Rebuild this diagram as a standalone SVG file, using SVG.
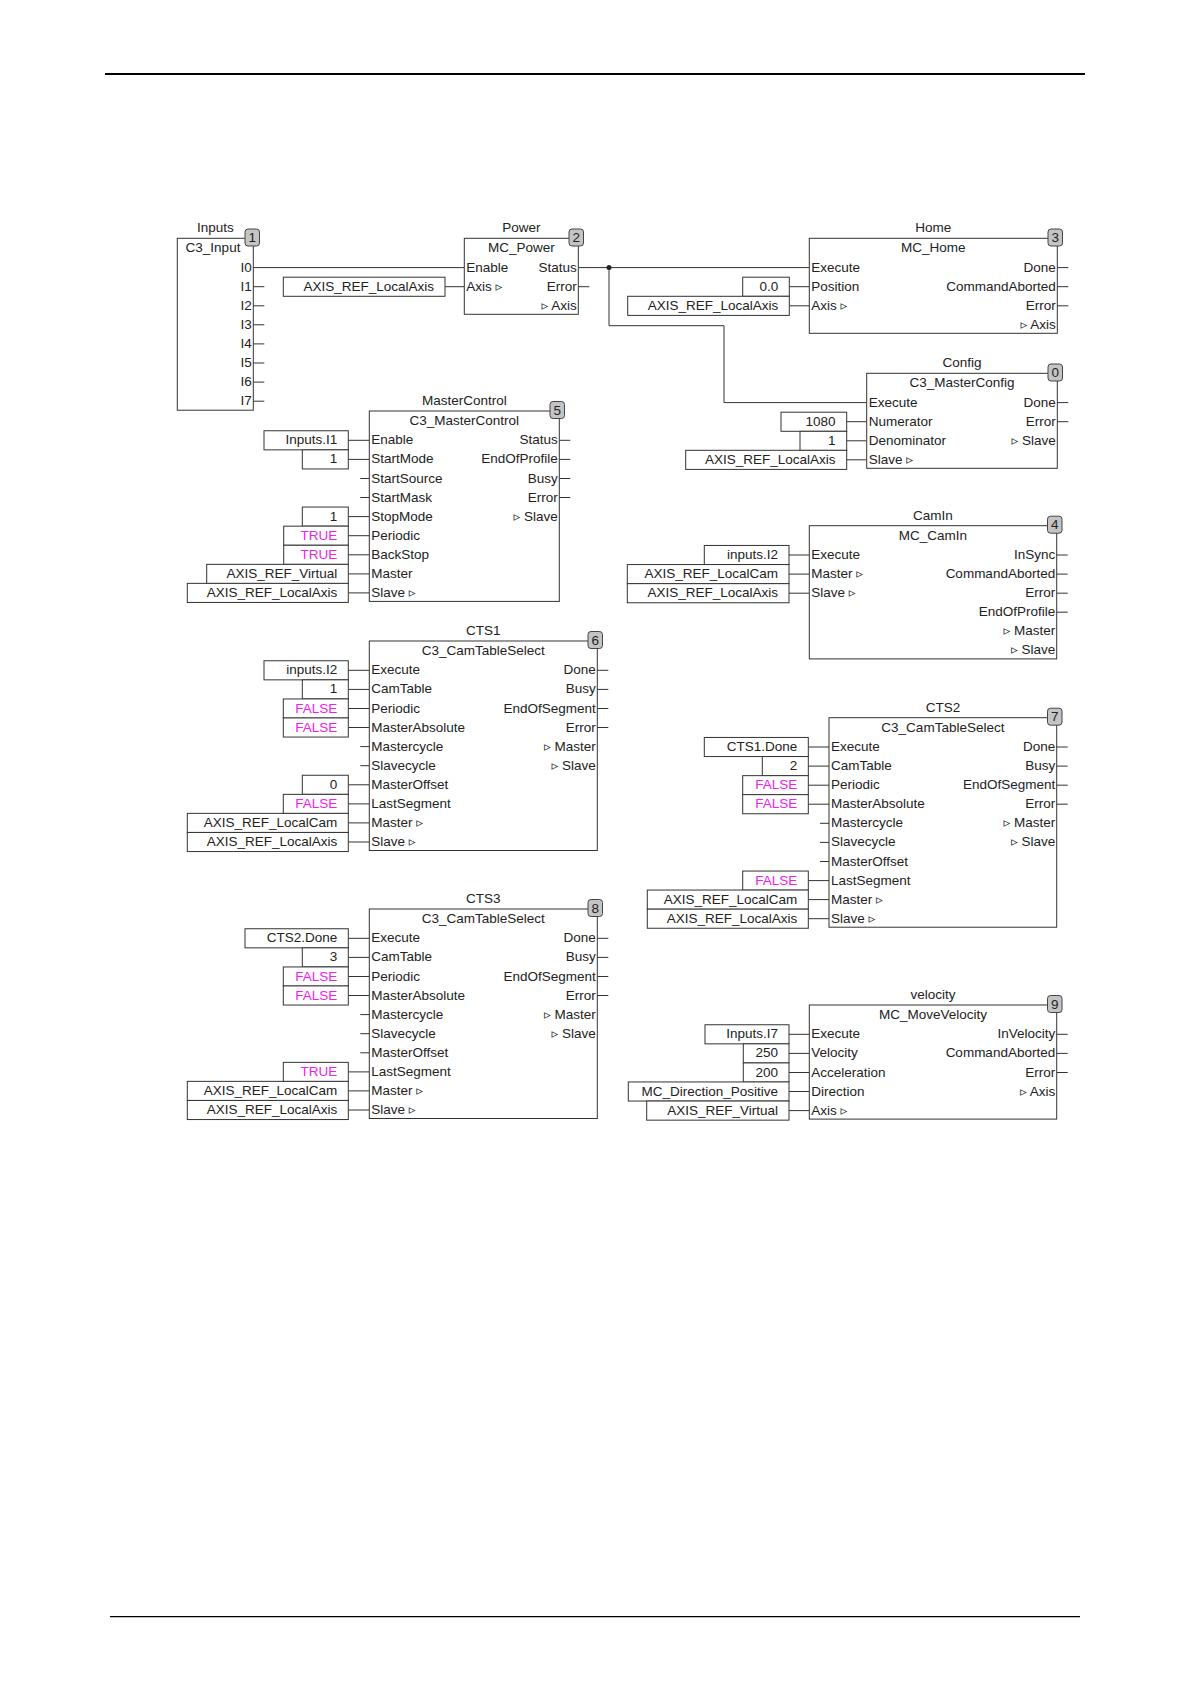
<svg xmlns="http://www.w3.org/2000/svg" width="1190" height="1684" viewBox="0 0 1190 1684">
<style>
text{font-family:"Liberation Sans",Arial,"DejaVu Sans",sans-serif;font-size:13.5px;fill:#222;transform:translateY(-1px)}
.m{text-anchor:middle}
.r{text-anchor:end}
.mag{fill:#ee22ee}
.b{fill:#fff;stroke:#333;stroke-width:1}
.k{fill:#fff;stroke:#333;stroke-width:1}
.s{stroke:#333;stroke-width:1;fill:none}
.w{stroke:#333;stroke-width:1;fill:none}
.bd{fill:#c4c4c4;stroke:#444;stroke-width:1}
.bn{font-size:13.5px;text-anchor:middle;fill:#222}
</style>
<rect width="1190" height="1684" fill="#fff"/>
<line x1="105" y1="74" x2="1085" y2="74" stroke="#000" stroke-width="2.2"/>
<line x1="110" y1="1616.7" x2="1080" y2="1616.7" stroke="#000" stroke-width="1.3"/>

<g id="connectors">
<path class="w" d="M253.3 267.6H464.3"/>
<path class="w" d="M578.3 267.6H809.3"/>
<path class="w" d="M609 267.6V325.7H724V402.6H866.7"/>
<circle cx="609" cy="267.6" r="2.5" fill="#222"/>
<path class="w" d="M445 286.7H464.3"/>
<path class="w" d="M789.3 286.7H809.3M789.3 305.8H809.3"/>
<path class="w" d="M846.7 421.7H866.7M846.7 440.8H866.7M846.7 459.8H866.7"/>
<path class="w" d="M348.3 440.3H369.3M348.3 459.4H369.3M348.3 516.6H369.3M348.3 535.7H369.3M348.3 554.8H369.3M348.3 573.9H369.3M348.3 592.9H369.3"/>
<path class="w" d="M789 555H809.3M789 574.1H809.3M789 593.2H809.3"/>
<path class="w" d="M348.3 670.3H369.3M348.3 689.4H369.3M348.3 708.5H369.3M348.3 727.5H369.3M348.3 784.8H369.3M348.3 803.9H369.3M348.3 822.9H369.3M348.3 842H369.3"/>
<path class="w" d="M808.3 747H829M808.3 766.1H829M808.3 785.2H829M808.3 804.2H829M808.3 880.6H829M808.3 899.6H829M808.3 918.7H829"/>
<path class="w" d="M348.3 938.3H369.3M348.3 957.4H369.3M348.3 976.5H369.3M348.3 995.5H369.3M348.3 1071.9H369.3M348.3 1090.9H369.3M348.3 1110H369.3"/>
<path class="w" d="M789 1034.3H809.3M789 1053.4H809.3M789 1072.5H809.3M789 1091.5H809.3M789 1110.6H809.3"/>
</g>

<g id="inputs">
<text class="m" x="215.3" y="233.3">Inputs</text>
<rect class="b" x="177.3" y="238.3" width="76" height="171.9"/>
<text class="m" x="213" y="253.3">C3_Input</text>
<text class="r" x="251.8" y="272.6">I0</text>
<text class="r" x="251.8" y="291.7">I1</text>
<text class="r" x="251.8" y="310.8">I2</text>
<text class="r" x="251.8" y="329.8">I3</text>
<text class="r" x="251.8" y="348.9">I4</text>
<text class="r" x="251.8" y="368">I5</text>
<text class="r" x="251.8" y="387.1">I6</text>
<text class="r" x="251.8" y="406.2">I7</text>
<path class="s" d="M253.3 286.7H264.3M253.3 305.8H264.3M253.3 324.8H264.3M253.3 343.9H264.3M253.3 363H264.3M253.3 382.1H264.3M253.3 401.2H264.3"/>
<rect class="bd" x="245" y="229" width="14.5" height="17" rx="3"/>
<text class="bn" x="252.2" y="243">1</text>
</g>

<g id="power">
<text class="m" x="521.3" y="233.3">Power</text>
<rect class="b" x="464.3" y="238.3" width="114" height="76"/>
<text class="m" x="521.3" y="253.3">MC_Power</text>
<text x="466.3" y="272.6">Enable</text>
<text x="466.3" y="291.7">Axis ▹</text>
<text class="r" x="576.8" y="272.6">Status</text>
<text class="r" x="576.8" y="291.7">Error</text>
<text class="r" x="576.8" y="310.8">▹ Axis</text>
<path class="s" d="M578.3 286.7H589.3"/>
<rect class="bd" x="569" y="229" width="14.5" height="17" rx="3"/>
<text class="bn" x="576.2" y="243">2</text>
<rect class="k" x="283.3" y="277.2" width="161.7" height="19.1"/>
<text class="r" x="434" y="291.7">AXIS_REF_LocalAxis</text>
</g>

<g id="home">
<text class="m" x="933.3" y="233.3">Home</text>
<rect class="b" x="809.3" y="238.3" width="248" height="95"/>
<text class="m" x="933.3" y="253.3">MC_Home</text>
<text x="811.3" y="272.6">Execute</text>
<text x="811.3" y="291.7">Position</text>
<text x="811.3" y="310.8">Axis ▹</text>
<text class="r" x="1055.8" y="272.6">Done</text>
<text class="r" x="1055.8" y="291.7">CommandAborted</text>
<text class="r" x="1055.8" y="310.8">Error</text>
<text class="r" x="1055.8" y="329.8">▹ Axis</text>
<path class="s" d="M1057.3 267.6H1068.3M1057.3 286.7H1068.3M1057.3 305.8H1068.3"/>
<rect class="bd" x="1048" y="229" width="14.5" height="17" rx="3"/>
<text class="bn" x="1055.2" y="243">3</text>
<rect class="k" x="742.7" y="277.2" width="46.6" height="19.1"/>
<text class="r" x="778.3" y="291.7">0.0</text>
<rect class="k" x="627.7" y="296.3" width="161.6" height="19.1"/>
<text class="r" x="778.3" y="310.8">AXIS_REF_LocalAxis</text>
</g>

<g id="config">
<text class="m" x="962" y="368.3">Config</text>
<rect class="b" x="866.7" y="373.3" width="190.6" height="95"/>
<text class="m" x="962" y="388.3">C3_MasterConfig</text>
<text x="868.7" y="407.6">Execute</text>
<text x="868.7" y="426.7">Numerator</text>
<text x="868.7" y="445.8">Denominator</text>
<text x="868.7" y="464.8">Slave ▹</text>
<text class="r" x="1055.8" y="407.6">Done</text>
<text class="r" x="1055.8" y="426.7">Error</text>
<text class="r" x="1055.8" y="445.8">▹ Slave</text>
<path class="s" d="M1057.3 402.6H1068.3M1057.3 421.7H1068.3"/>
<rect class="bd" x="1048" y="364" width="14.5" height="17" rx="3"/>
<text class="bn" x="1055.2" y="378">0</text>
<rect class="k" x="781" y="412.2" width="65.7" height="19.1"/>
<text class="r" x="835.5" y="426.7">1080</text>
<rect class="k" x="800" y="431.3" width="46.7" height="19.1"/>
<text class="r" x="835.5" y="445.8">1</text>
<rect class="k" x="685.7" y="450.3" width="161" height="19.1"/>
<text class="r" x="835.5" y="464.8">AXIS_REF_LocalAxis</text>
</g>

<g id="mastercontrol">
<text class="m" x="464.3" y="406">MasterControl</text>
<rect class="b" x="369.3" y="411" width="190" height="190.4"/>
<text class="m" x="464.3" y="426">C3_MasterControl</text>
<text x="371.3" y="445.3">Enable</text>
<text x="371.3" y="464.4">StartMode</text>
<text x="371.3" y="483.5">StartSource</text>
<text x="371.3" y="502.5">StartMask</text>
<text x="371.3" y="521.6">StopMode</text>
<text x="371.3" y="540.7">Periodic</text>
<text x="371.3" y="559.8">BackStop</text>
<text x="371.3" y="578.9">Master</text>
<text x="371.3" y="597.9">Slave ▹</text>
<text class="r" x="557.8" y="445.3">Status</text>
<text class="r" x="557.8" y="464.4">EndOfProfile</text>
<text class="r" x="557.8" y="483.5">Busy</text>
<text class="r" x="557.8" y="502.5">Error</text>
<text class="r" x="557.8" y="521.6">▹ Slave</text>
<path class="s" d="M559.3 440.3H570.3M559.3 459.4H570.3M559.3 478.5H570.3M559.3 497.5H570.3M360.3 478.5H369.3M360.3 497.5H369.3"/>
<rect class="bd" x="550" y="401.5" width="14.5" height="17" rx="3"/>
<text class="bn" x="557.2" y="415.5">5</text>
<rect class="k" x="264" y="430.75" width="84.3" height="19.1"/>
<text class="r" x="337.3" y="445.3">Inputs.I1</text>
<rect class="k" x="302.3" y="449.85" width="46" height="19.1"/>
<text class="r" x="337.3" y="464.4">1</text>
<rect class="k" x="302.3" y="507.05" width="46" height="19.1"/>
<text class="r" x="337.3" y="521.6">1</text>
<rect class="k" x="283.7" y="526.15" width="64.6" height="19.1"/>
<text class="r mag" x="337.3" y="540.7">TRUE</text>
<rect class="k" x="283.7" y="545.25" width="64.6" height="19.1"/>
<text class="r mag" x="337.3" y="559.8">TRUE</text>
<rect class="k" x="206.7" y="564.35" width="141.6" height="19.1"/>
<text class="r" x="337.3" y="578.9">AXIS_REF_Virtual</text>
<rect class="k" x="187.3" y="583.35" width="161" height="19.1"/>
<text class="r" x="337.3" y="597.9">AXIS_REF_LocalAxis</text>
</g>

<g id="camin">
<text class="m" x="933" y="520.7">CamIn</text>
<rect class="b" x="809.3" y="525.7" width="247.4" height="133.2"/>
<text class="m" x="933" y="540.7">MC_CamIn</text>
<text x="811.3" y="560">Execute</text>
<text x="811.3" y="579.1">Master ▹</text>
<text x="811.3" y="598.2">Slave ▹</text>
<text class="r" x="1055.2" y="560">InSync</text>
<text class="r" x="1055.2" y="579.1">CommandAborted</text>
<text class="r" x="1055.2" y="598.2">Error</text>
<text class="r" x="1055.2" y="617.2">EndOfProfile</text>
<text class="r" x="1055.2" y="636.3">▹ Master</text>
<text class="r" x="1055.2" y="655.4">▹ Slave</text>
<path class="s" d="M1056.7 555H1067.7M1056.7 574.1H1067.7M1056.7 593.2H1067.7M1056.7 612.2H1067.7"/>
<rect class="bd" x="1047.5" y="516.2" width="14.5" height="17" rx="3"/>
<text class="bn" x="1054.7" y="530.2">4</text>
<rect class="k" x="704.3" y="545.45" width="84.7" height="19.1"/>
<text class="r" x="778" y="560">inputs.I2</text>
<rect class="k" x="627.3" y="564.55" width="161.7" height="19.1"/>
<text class="r" x="778" y="579.1">AXIS_REF_LocalCam</text>
<rect class="k" x="627.3" y="583.65" width="161.7" height="19.1"/>
<text class="r" x="778" y="598.2">AXIS_REF_LocalAxis</text>
</g>

<g id="cts1">
<text class="m" x="483.3" y="636">CTS1</text>
<rect class="b" x="369.3" y="641" width="228" height="209.5"/>
<text class="m" x="483.3" y="656">C3_CamTableSelect</text>
<text x="371.3" y="675.3">Execute</text>
<text x="371.3" y="694.4">CamTable</text>
<text x="371.3" y="713.5">Periodic</text>
<text x="371.3" y="732.5">MasterAbsolute</text>
<text x="371.3" y="751.6">Mastercycle</text>
<text x="371.3" y="770.7">Slavecycle</text>
<text x="371.3" y="789.8">MasterOffset</text>
<text x="371.3" y="808.9">LastSegment</text>
<text x="371.3" y="827.9">Master ▹</text>
<text x="371.3" y="847">Slave ▹</text>
<text class="r" x="595.8" y="675.3">Done</text>
<text class="r" x="595.8" y="694.4">Busy</text>
<text class="r" x="595.8" y="713.5">EndOfSegment</text>
<text class="r" x="595.8" y="732.5">Error</text>
<text class="r" x="595.8" y="751.6">▹ Master</text>
<text class="r" x="595.8" y="770.7">▹ Slave</text>
<path class="s" d="M597.3 670.3H608.3M597.3 689.4H608.3M597.3 708.5H608.3M597.3 727.5H608.3M360.3 746.6H369.3M360.3 765.7H369.3"/>
<rect class="bd" x="588" y="631.5" width="14.5" height="17" rx="3"/>
<text class="bn" x="595.2" y="645.5">6</text>
<rect class="k" x="264" y="660.75" width="84.3" height="19.1"/>
<text class="r" x="337.3" y="675.3">inputs.I2</text>
<rect class="k" x="302.3" y="679.85" width="46" height="19.1"/>
<text class="r" x="337.3" y="694.4">1</text>
<rect class="k" x="283.3" y="698.95" width="65" height="19.1"/>
<text class="r mag" x="337.3" y="713.5">FALSE</text>
<rect class="k" x="283.3" y="717.95" width="65" height="19.1"/>
<text class="r mag" x="337.3" y="732.5">FALSE</text>
<rect class="k" x="302.3" y="775.25" width="46" height="19.1"/>
<text class="r" x="337.3" y="789.8">0</text>
<rect class="k" x="283.3" y="794.35" width="65" height="19.1"/>
<text class="r mag" x="337.3" y="808.9">FALSE</text>
<rect class="k" x="187.3" y="813.35" width="161" height="19.1"/>
<text class="r" x="337.3" y="827.9">AXIS_REF_LocalCam</text>
<rect class="k" x="187.3" y="832.45" width="161" height="19.1"/>
<text class="r" x="337.3" y="847">AXIS_REF_LocalAxis</text>
</g>

<g id="cts2">
<text class="m" x="942.9" y="712.7">CTS2</text>
<rect class="b" x="829" y="717.7" width="227.7" height="209.5"/>
<text class="m" x="942.9" y="732.7">C3_CamTableSelect</text>
<text x="831" y="752">Execute</text>
<text x="831" y="771.1">CamTable</text>
<text x="831" y="790.2">Periodic</text>
<text x="831" y="809.2">MasterAbsolute</text>
<text x="831" y="828.3">Mastercycle</text>
<text x="831" y="847.4">Slavecycle</text>
<text x="831" y="866.5">MasterOffset</text>
<text x="831" y="885.6">LastSegment</text>
<text x="831" y="904.6">Master ▹</text>
<text x="831" y="923.7">Slave ▹</text>
<text class="r" x="1055.2" y="752">Done</text>
<text class="r" x="1055.2" y="771.1">Busy</text>
<text class="r" x="1055.2" y="790.2">EndOfSegment</text>
<text class="r" x="1055.2" y="809.2">Error</text>
<text class="r" x="1055.2" y="828.3">▹ Master</text>
<text class="r" x="1055.2" y="847.4">▹ Slave</text>
<path class="s" d="M1056.7 747H1067.7M1056.7 766.1H1067.7M1056.7 785.2H1067.7M1056.7 804.2H1067.7M820 823.3H829M820 842.4H829M820 861.5H829"/>
<rect class="bd" x="1047.5" y="708.2" width="14.5" height="17" rx="3"/>
<text class="bn" x="1054.7" y="722.2">7</text>
<rect class="k" x="704.3" y="737.45" width="104" height="19.1"/>
<text class="r" x="797.3" y="752">CTS1.Done</text>
<rect class="k" x="762.3" y="756.55" width="46" height="19.1"/>
<text class="r" x="797.3" y="771.1">2</text>
<rect class="k" x="742.7" y="775.65" width="65.6" height="19.1"/>
<text class="r mag" x="797.3" y="790.2">FALSE</text>
<rect class="k" x="742.7" y="794.65" width="65.6" height="19.1"/>
<text class="r mag" x="797.3" y="809.2">FALSE</text>
<rect class="k" x="742.7" y="871.05" width="65.6" height="19.1"/>
<text class="r mag" x="797.3" y="885.6">FALSE</text>
<rect class="k" x="647.3" y="890.05" width="161" height="19.1"/>
<text class="r" x="797.3" y="904.6">AXIS_REF_LocalCam</text>
<rect class="k" x="647.3" y="909.15" width="161" height="19.1"/>
<text class="r" x="797.3" y="923.7">AXIS_REF_LocalAxis</text>
</g>

<g id="cts3">
<text class="m" x="483.3" y="904">CTS3</text>
<rect class="b" x="369.3" y="909" width="228" height="209.5"/>
<text class="m" x="483.3" y="924">C3_CamTableSelect</text>
<text x="371.3" y="943.3">Execute</text>
<text x="371.3" y="962.4">CamTable</text>
<text x="371.3" y="981.5">Periodic</text>
<text x="371.3" y="1000.5">MasterAbsolute</text>
<text x="371.3" y="1019.6">Mastercycle</text>
<text x="371.3" y="1038.7">Slavecycle</text>
<text x="371.3" y="1057.8">MasterOffset</text>
<text x="371.3" y="1076.9">LastSegment</text>
<text x="371.3" y="1095.9">Master ▹</text>
<text x="371.3" y="1115">Slave ▹</text>
<text class="r" x="595.8" y="943.3">Done</text>
<text class="r" x="595.8" y="962.4">Busy</text>
<text class="r" x="595.8" y="981.5">EndOfSegment</text>
<text class="r" x="595.8" y="1000.5">Error</text>
<text class="r" x="595.8" y="1019.6">▹ Master</text>
<text class="r" x="595.8" y="1038.7">▹ Slave</text>
<path class="s" d="M597.3 938.3H608.3M597.3 957.4H608.3M597.3 976.5H608.3M597.3 995.5H608.3M360.3 1014.6H369.3M360.3 1033.7H369.3M360.3 1052.8H369.3"/>
<rect class="bd" x="588" y="899.5" width="14.5" height="17" rx="3"/>
<text class="bn" x="595.2" y="913.5">8</text>
<rect class="k" x="245" y="928.75" width="103.3" height="19.1"/>
<text class="r" x="337.3" y="943.3">CTS2.Done</text>
<rect class="k" x="302.3" y="947.85" width="46" height="19.1"/>
<text class="r" x="337.3" y="962.4">3</text>
<rect class="k" x="283.3" y="966.95" width="65" height="19.1"/>
<text class="r mag" x="337.3" y="981.5">FALSE</text>
<rect class="k" x="283.3" y="985.95" width="65" height="19.1"/>
<text class="r mag" x="337.3" y="1000.5">FALSE</text>
<rect class="k" x="283.3" y="1062.35" width="65" height="19.1"/>
<text class="r mag" x="337.3" y="1076.9">TRUE</text>
<rect class="k" x="187.3" y="1081.35" width="161" height="19.1"/>
<text class="r" x="337.3" y="1095.9">AXIS_REF_LocalCam</text>
<rect class="k" x="187.3" y="1100.45" width="161" height="19.1"/>
<text class="r" x="337.3" y="1115">AXIS_REF_LocalAxis</text>
</g>

<g id="velocity">
<text class="m" x="933" y="1000">velocity</text>
<rect class="b" x="809.3" y="1005" width="247.4" height="114.1"/>
<text class="m" x="933" y="1020">MC_MoveVelocity</text>
<text x="811.3" y="1039.3">Execute</text>
<text x="811.3" y="1058.4">Velocity</text>
<text x="811.3" y="1077.5">Acceleration</text>
<text x="811.3" y="1096.5">Direction</text>
<text x="811.3" y="1115.6">Axis ▹</text>
<text class="r" x="1055.2" y="1039.3">InVelocity</text>
<text class="r" x="1055.2" y="1058.4">CommandAborted</text>
<text class="r" x="1055.2" y="1077.5">Error</text>
<text class="r" x="1055.2" y="1096.5">▹ Axis</text>
<path class="s" d="M1056.7 1034.3H1067.7M1056.7 1053.4H1067.7M1056.7 1072.5H1067.7"/>
<rect class="bd" x="1047.5" y="995.5" width="14.5" height="17" rx="3"/>
<text class="bn" x="1054.7" y="1009.5">9</text>
<rect class="k" x="705" y="1024.75" width="84" height="19.1"/>
<text class="r" x="778" y="1039.3">Inputs.I7</text>
<rect class="k" x="743.3" y="1043.85" width="45.7" height="19.1"/>
<text class="r" x="778" y="1058.4">250</text>
<rect class="k" x="743.3" y="1062.95" width="45.7" height="19.1"/>
<text class="r" x="778" y="1077.5">200</text>
<rect class="k" x="628.3" y="1081.95" width="160.7" height="19.1"/>
<text class="r" x="778" y="1096.5">MC_Direction_Positive</text>
<rect class="k" x="646.7" y="1101.05" width="142.3" height="19.1"/>
<text class="r" x="778" y="1115.6">AXIS_REF_Virtual</text>
</g>
</svg>
